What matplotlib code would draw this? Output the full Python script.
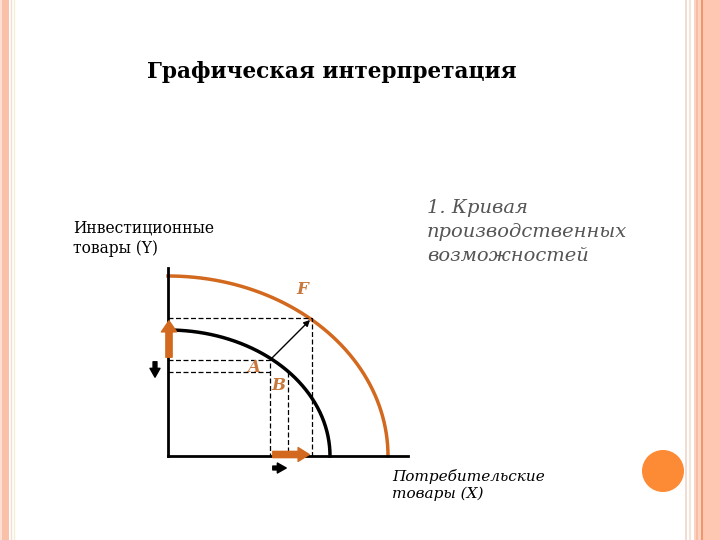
import numpy as np
import matplotlib.pyplot as plt
from matplotlib.patches import Circle, Rectangle

# кривые производственных возможностей (пересечения с осями)
inner_ppf = (162, 126)   # (X max, Y max)
outer_ppf = (220, 180)
# точки на графике
point_a = (102, 96)
point_b = (120, 84)
point_f = (144, 138)

title = "Графическая интерпретация"
y_label = "Инвестиционные\nтовары (Y)"
x_label = "Потребительские\nтовары (X)"
curve_title = "Кривая\nпроизводственных\nвозможностей"

orange = "#d2691e"
label_col = "#c8783c"

fig = plt.figure(figsize=(7.2, 5.4), dpi=100)

# фон слайда: полосы по краям и кружок
bg = fig.add_axes([0, 0, 1, 1])
bg.set_xlim(0, 720)
bg.set_ylim(540, 0)
bg.axis("off")
bg.add_patch(Rectangle((2, 0), 7, 540, color="#fbc0a8", lw=0))
bg.add_patch(Rectangle((0, 0), 2, 540, color="#fde0d4", lw=0))
bg.axvline(11, color="#f4dcd4", lw=1)
bg.axvline(14, color="#f3f0d8", lw=1)
bg.add_patch(Rectangle((703, 0), 17, 540, color="#fec7b2", lw=0))
bg.add_patch(Rectangle((694, 0), 9, 540, color="#fcd2c2", lw=0))
for x, c, w in [(686, "#f0d6c8", 1.2), (690, "#f3e6d8", 1.5), (697, "#f8b89c", 1.2), (702, "#f08a5c", 1.2)]:
    bg.axvline(x, color=c, lw=w)
bg.add_patch(Circle((663, 471), 21, color="#fd8a34", lw=0))

fig.text(147 / 720, 1 - 72 / 540, title, fontsize=15.6, fontweight="bold",
         family="DejaVu Serif", va="center", ha="left")
fig.text(73 / 720, 1 - 238 / 540, y_label, fontsize=11.2, family="DejaVu Serif",
         va="center", ha="left", linespacing=1.3)
fig.text(392 / 720, 1 - 485 / 540, x_label, fontsize=11, family="DejaVu Serif",
         style="italic", va="center", ha="left", linespacing=1.3)
fig.text(427 / 720, 1 - 232 / 540, "1. " + curve_title, fontsize=14, family="DejaVu Serif",
         style="italic", color="#555555", va="center", ha="left", linespacing=1.45)

# сам график
ax = fig.add_axes([168 / 720, 1 - 456 / 540, 240 / 720, 188 / 540])
ax.set_xlim(0, 240)
ax.set_ylim(0, 188)
ax.patch.set_alpha(0)
for s in ["top", "right"]:
    ax.spines[s].set_visible(False)
for s in ["left", "bottom"]:
    ax.spines[s].set_linewidth(2)
ax.set_xticks([])
ax.set_yticks([])

t = np.linspace(0, np.pi / 2, 200)
ax.plot(inner_ppf[0] * np.cos(t), inner_ppf[1] * np.sin(t), color="black", lw=2.5, clip_on=False)
ax.plot(outer_ppf[0] * np.cos(t), outer_ppf[1] * np.sin(t), color=orange, lw=2.5, clip_on=False)

dash = dict(color="black", lw=0.9, ls=(0, (4, 2)))
ax.plot([0, point_f[0], point_f[0]], [point_f[1], point_f[1], 0], **dash)
ax.plot([0, point_a[0], point_a[0]], [point_a[1], point_a[1], 0], **dash)
ax.plot([0, point_a[0]], [point_b[1], point_b[1]], **dash)
ax.plot([point_b[0], point_b[0]], [point_b[1], 0], **dash)

ax.annotate("", xy=point_f, xytext=point_a,
            arrowprops=dict(arrowstyle="-|>", color="black", lw=1, mutation_scale=9))

# сдвиги по осям
ax.annotate("", xy=(1, point_f[1]), xytext=(1, point_a[1]), annotation_clip=False,
            arrowprops=dict(arrowstyle="simple,head_width=1.1,head_length=0.8,tail_width=0.45",
                            color=orange, mutation_scale=10))
ax.annotate("", xy=(point_f[0], 1.5), xytext=(point_a[0], 1.5), annotation_clip=False,
            arrowprops=dict(arrowstyle="simple,head_width=1.0,head_length=0.8,tail_width=0.45",
                            color=orange, mutation_scale=10))
ax.annotate("", xy=(-13, point_b[1] - 8), xytext=(-13, point_a[1] + 1), annotation_clip=False,
            arrowprops=dict(arrowstyle="simple,head_width=0.9,head_length=0.8,tail_width=0.35",
                            color="black", mutation_scale=8))
ax.annotate("", xy=(point_b[0] + 1, -12), xytext=(point_a[0], -12), annotation_clip=False,
            arrowprops=dict(arrowstyle="simple,head_width=0.9,head_length=0.8,tail_width=0.35",
                            color="black", mutation_scale=8))

lab = dict(color=label_col, fontsize=12, fontweight="bold", style="italic",
           family="DejaVu Serif", ha="center", va="center")
ax.text(point_a[0] - 16, point_a[1] - 8, "A", **lab)
ax.text(point_b[0] - 10, point_b[1] - 13, "B", **lab)
ax.text(point_f[0] - 10, point_f[1] + 28, "F", **lab)

fig.savefig("out.png", dpi=100)
